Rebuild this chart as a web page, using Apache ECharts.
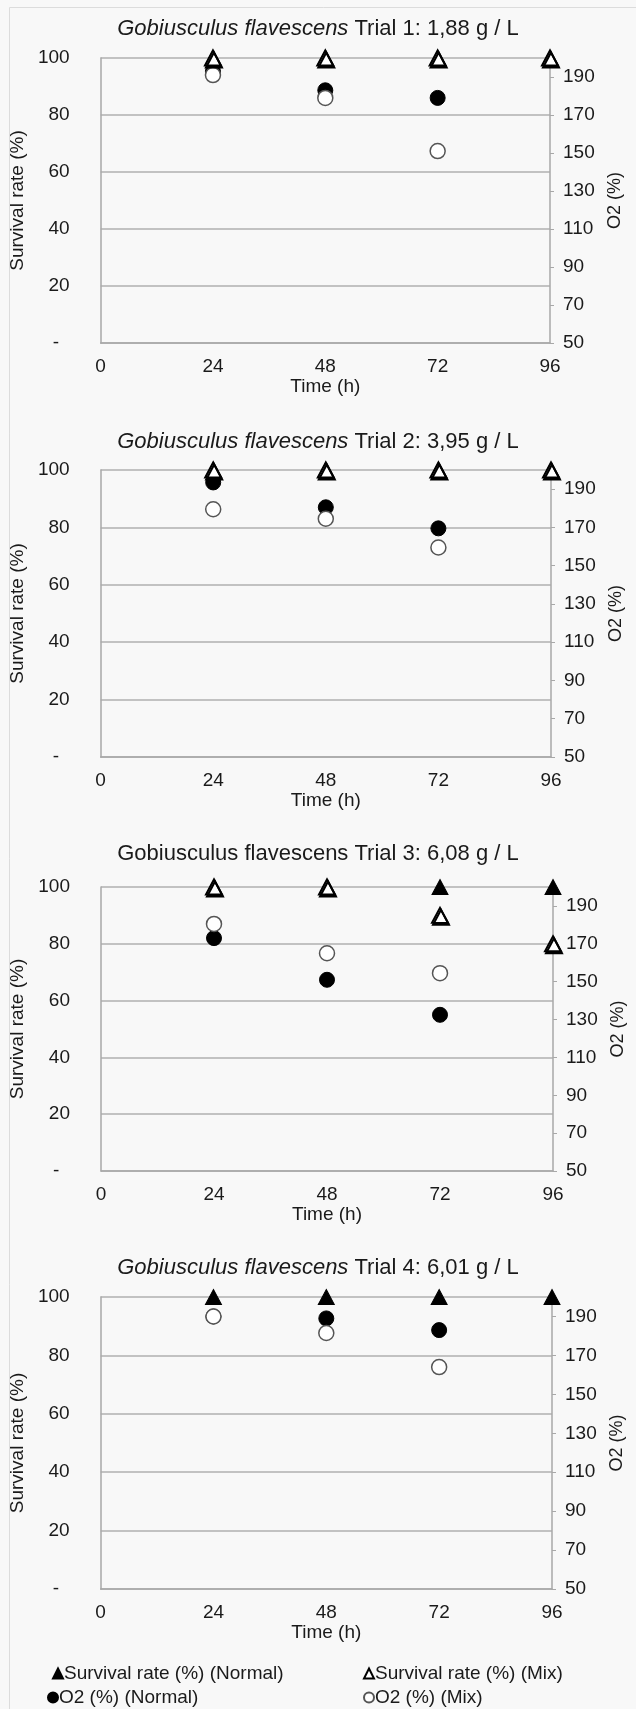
<!DOCTYPE html>
<html>
<head>
<meta charset="utf-8">
<script src="https://cdn.jsdelivr.net/npm/echarts@6/dist/echarts.min.js"></script>
<style>
  html, body { margin: 0; padding: 0; background: #f8f8f8; }
  #chart { width: 636px; height: 1709px; }
</style>
</head>
<body>
<div id="chart"></div>
<script>
// time points (h)
var hours = [24, 48, 72, 96];
var trialNames = ['Trial 1: 1,88 g / L', 'Trial 2: 3,95 g / L', 'Trial 3: 6,08 g / L', 'Trial 4: 6,01 g / L'];
var italicSpecies = [true, true, false, true];
var survivalTicks = [0, 20, 40, 60, 80, 100];
var o2Ticks = [50, 70, 90, 110, 130, 150, 170, 190];

// one row per trial, values at 24/48/72/96 h
var survivalNormal = [
  [100, 100, 100, 100],
  [100, 100, 100, 100],
  [100, 100, 100, 100],
  [100, 100, 100, 100]
];
var survivalMix = [
  [100, 100, 100, 100],
  [100, 100, 100, 100],
  [100, 100, 90, 80],
  [null, null, null, null]
];
var o2Normal = [
  [193, 183, 179, null],
  [193.5, 180.5, 169.5, null],
  [173, 151, 132.5, null],
  [190, 189, 183, null]
];
var o2Mix = [
  [191, 179, 151, null],
  [179.5, 174.5, 159.5, null],
  [180.5, 165, 154.5, null],
  [190, 181.5, 164, null]
];

var myChart = echarts.init(document.getElementById('chart'));
var font = "'Liberation Sans', Arial, sans-serif";
var txt = '#1a1a1a';

// panel boxes (plot area) and title centres
var panels = [
  {left: 99, top: 58, width: 451, height: 285, titleY: 29},
  {left: 99, top: 470, width: 452, height: 287, titleY: 442},
  {left: 101, top: 887, width: 452, height: 284, titleY: 854},
  {left: 96, top: 1297, width: 456, height: 292, titleY: 1268}
];

var grids = [], xAxes = [], yAxes = [], series = [], titles = [];

function pairs(vals) {
  var out = [];
  for (var i = 0; i < hours.length; i++) {
    out.push([hours[i], vals[i]]);
  }
  return out;
}

// open markers in the source have a dark drop edge underneath
var dropEdge = {shadowColor: '#000', shadowBlur: 0, shadowOffsetX: 1, shadowOffsetY: 2};

for (var p = 0; p < 4; p++) {
  var b = panels[p];
  grids.push({left: b.left, top: b.top, width: b.width, height: b.height, containLabel: false});
  titles.push({
    text: (italicSpecies[p] ? '{i|Gobiusculus flavescens}' : '{n|Gobiusculus flavescens}') + ' ' + trialNames[p],
    left: 'center',
    top: b.titleY - 11,
    padding: 0,
    textStyle: {
      fontFamily: font, fontSize: 22, fontWeight: 'normal', color: txt,
      rich: {
        i: {fontFamily: font, fontSize: 22, fontStyle: 'italic', color: txt},
        n: {fontFamily: font, fontSize: 22, color: txt}
      }
    }
  });
  xAxes.push({
    gridIndex: p, type: 'value', min: 0, max: 96, interval: 24,
    axisLine: {show: true, lineStyle: {color: '#a8a8a8', width: 1.5}},
    axisTick: {show: false},
    splitLine: {show: false},
    axisLabel: {margin: 14, fontFamily: font, fontSize: 19, color: txt},
    name: 'Time (h)', nameLocation: 'middle', nameGap: 33,
    nameTextStyle: {fontFamily: font, fontSize: 19, color: txt}
  });
  yAxes.push({
    gridIndex: p, type: 'value', min: 0, max: 100, interval: 20, position: 'left',
    axisLine: {show: true, lineStyle: {color: '#a8a8a8', width: 1.5}},
    axisTick: {show: false},
    splitLine: {show: true, lineStyle: {color: '#b0b0b0', width: 1.5}},
    axisLabel: {
      margin: 31, fontFamily: font, fontSize: 19, color: txt,
      formatter: function (v) { return v === 0 ? '-  ' : v; }
    },
    name: 'Survival rate (%)', nameLocation: 'middle', nameRotate: 90, nameGap: 66,
    nameTextStyle: {fontFamily: font, fontSize: 19, color: txt}
  });
  yAxes.push({
    gridIndex: p, type: 'value', min: 50, max: 200, position: 'right',
    axisLine: {show: true, lineStyle: {color: '#a8a8a8', width: 1.5}},
    axisTick: {show: true, length: 4, customValues: o2Ticks, lineStyle: {color: '#a8a8a8'}},
    splitLine: {show: false},
    axisLabel: {customValues: o2Ticks, margin: 13, fontFamily: font, fontSize: 19, color: txt},
    name: 'O2 (%)', nameLocation: 'middle', nameRotate: 90, nameGap: 55,
    nameTextStyle: {fontFamily: font, fontSize: 18, color: txt}
  });

  series.push({
    name: 'O2 (%) (Normal)', type: 'scatter', xAxisIndex: p, yAxisIndex: p * 2 + 1,
    symbol: 'circle', symbolSize: 15,
    itemStyle: {color: '#000', borderColor: '#000', borderWidth: 1, opacity: 1},
    data: pairs(o2Normal[p])
  });
  series.push({
    name: 'O2 (%) (Mix)', type: 'scatter', xAxisIndex: p, yAxisIndex: p * 2 + 1,
    symbol: 'circle', symbolSize: 15,
    itemStyle: {color: '#fff', borderColor: '#555', borderWidth: 1.5, opacity: 1},
    data: pairs(o2Mix[p])
  });
  series.push({
    name: 'Survival rate (%) (Normal)', type: 'scatter', xAxisIndex: p, yAxisIndex: p * 2,
    symbol: 'triangle', symbolSize: [16, 15],
    itemStyle: {color: '#000', borderColor: '#000', borderWidth: 1, opacity: 1},
    data: pairs(survivalNormal[p])
  });
  series.push({
    name: 'Survival rate (%) (Mix)', type: 'scatter', xAxisIndex: p, yAxisIndex: p * 2,
    symbol: 'triangle', symbolSize: [16, 15],
    itemStyle: Object.assign({color: '#fff', borderColor: '#000', borderWidth: 2, opacity: 1}, dropEdge),
    data: pairs(survivalMix[p])
  });
}

function legendItem(name, left, top) {
  return {
    data: [name], left: left, top: top, padding: 0,
    itemWidth: 10, itemHeight: 10, itemGap: 2, selectedMode: false,
    itemStyle: {shadowColor: 'transparent', shadowOffsetX: 0, shadowOffsetY: 0},
    textStyle: {fontFamily: font, fontSize: 19, color: txt, padding: [0, 0, 0, -4]}
  };
}

var option = {
  backgroundColor: '#f8f8f8',
  animation: false,
  title: titles,
  grid: grids,
  xAxis: xAxes,
  yAxis: yAxes,
  legend: [
    legendItem('Survival rate (%) (Normal)', 52, 1664),
    legendItem('Survival rate (%) (Mix)', 363, 1664),
    legendItem('O2 (%) (Normal)', 47, 1688),
    legendItem('O2 (%) (Mix)', 363, 1688)
  ],
  graphic: [{
    type: 'rect', left: 7, top: 5, silent: true,
    shape: {width: 640, height: 1720},
    style: {fill: 'none', stroke: '#dcdcdc', lineWidth: 1}
  }],
  series: series
};
myChart.setOption(option);
</script>
</body>
</html>
